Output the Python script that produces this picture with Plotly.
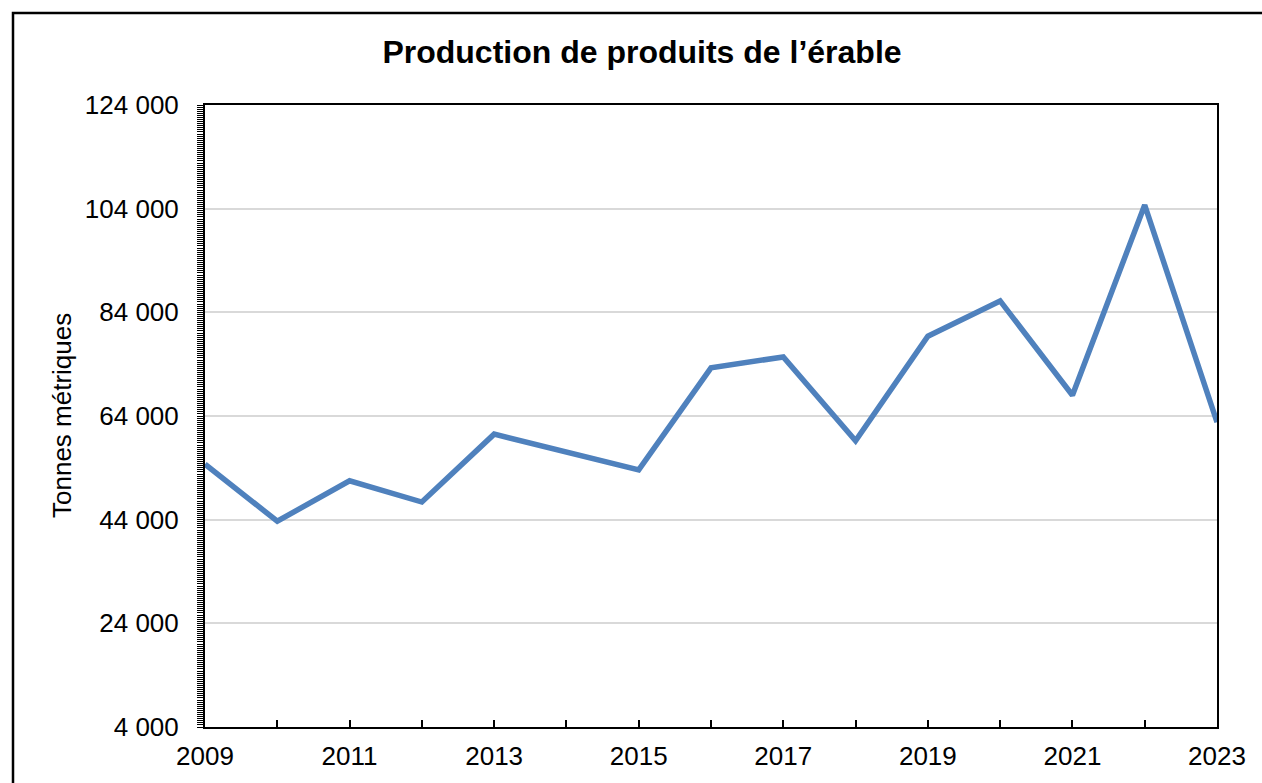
import plotly.graph_objects as go

years = [2009, 2010, 2011, 2012, 2013, 2014, 2015, 2016, 2017, 2018, 2019, 2020, 2021, 2022, 2023]
production = [54700, 43700, 51500, 47400, 60500, 57000, 53600, 73300, 75400, 59200, 79400, 86200, 68000, 104700, 62800]

y_ticks = [4000, 24000, 44000, 64000, 84000, 104000, 124000]
x_ticks = [2009, 2011, 2013, 2015, 2017, 2019, 2021, 2023]

L, R, T, B = 205, 45, 105, 56
W, H = 1262, 783
pw, ph = W - L - R, H - T - B

fig = go.Figure()
fig.add_trace(go.Scatter(
    x=years, y=production, mode="lines",
    line=dict(color="#4F81BD", width=5.5), cliponaxis=False, hoverinfo="x+y"))

font = "Liberation Sans, Arial, sans-serif"
fig.update_layout(
    width=W, height=H, margin=dict(l=L, r=R, t=T, b=B),
    paper_bgcolor="white", plot_bgcolor="white",
    separators=", ", showlegend=False,
    font=dict(family=font, size=26, color="black"),
    title=dict(text="<b>Production de produits de l’érable</b>",
               x=642 / W, xanchor="center", xref="container",
               y=1 - 52 / H, yanchor="middle", yref="container",
               font=dict(size=32, family=font, color="black")),
    xaxis=dict(range=[2009, 2023], tickmode="array", tickvals=years,
               ticktext=[str(y) if y in x_ticks else "" for y in years],
               ticks="inside", ticklen=7, tickwidth=1.5, tickcolor="black",
               showline=True, linecolor="black", linewidth=2, mirror=True,
               showgrid=False, zeroline=False, ticklabelstandoff=5,
               tickfont=dict(size=26)),
    yaxis=dict(range=[4000, 124000], tickmode="array", tickvals=y_ticks,
               ticks="outside", ticklen=6, tickwidth=1, tickcolor="black",
               tickformat=",d",
               minor=dict(dtick=400, tick0=4000, ticks="outside", ticklen=6,
                          tickwidth=1.3, tickcolor="black", showgrid=False),
               showline=True, linecolor="black", linewidth=2, mirror=True,
               showgrid=True, gridcolor="#D9D9D9", gridwidth=1.5,
               zeroline=False, ticklabelstandoff=13,
               tickfont=dict(size=26)),
    annotations=[dict(text="Tonnes métriques", textangle=-90,
                      xref="paper", yref="paper",
                      x=(62 - L) / pw, y=0.5, xanchor="center", yanchor="middle",
                      showarrow=False, font=dict(size=26, family=font))],
    shapes=[dict(type="rect", xref="paper", yref="paper", layer="above",
                 x0=(13 - L) / pw, x1=(W + 20 - L) / pw,
                 y0=-(B + 20) / ph, y1=1 + (T - 13) / ph,
                 line=dict(color="black", width=2.5))],
)

fig.write_html("out.html", config={"displayModeBar": False},
               post_script="document.body.style.margin='0';document.body.style.overflow='hidden';")
